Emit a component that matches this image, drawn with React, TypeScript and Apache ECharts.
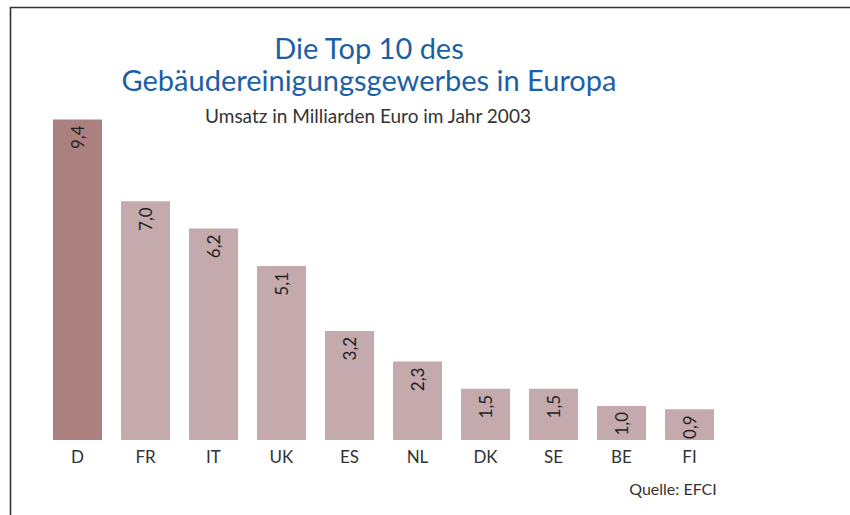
import React, { useEffect, useRef } from "react";
import * as echarts from "echarts";

const categories = ["D", "FR", "IT", "UK", "ES", "NL", "DK", "SE", "BE", "FI"];
const values = [9.4, 7.0, 6.2, 5.1, 3.2, 2.3, 1.5, 1.5, 1.0, 0.9];
const titleLines = ["Die Top 10 des", "Gebäudereinigungsgewerbes in Europa"];
const subtitle = "Umsatz in Milliarden Euro im Jahr 2003";
const source = "Quelle: EFCI";

const highlightColor = "#ad8080";
const barColor = "#c4a9ad";
const FONT = "Lato, 'Open Sans', sans-serif";

export default function App() {
  const ref = useRef<HTMLDivElement>(null);
  useEffect(() => {
    if (!ref.current) return;
    const chart = echarts.init(ref.current, undefined, { renderer: "svg" });
    chart.setOption({
      animation: false,
      backgroundColor: "#ffffff",
      title: [
        {
          text: titleLines.join("\n"),
          left: 364,
          top: 26,
          textAlign: "center",
          textStyle: {
            fontFamily: FONT,
            fontSize: 29,
            fontWeight: "normal",
            color: "#1b5fa6",
            lineHeight: 32,
          },
        },
        {
          text: subtitle,
          left: 363,
          top: 101,
          textAlign: "center",
          textStyle: {
            fontFamily: FONT,
            fontSize: 19,
            fontWeight: "normal",
            color: "#333333",
          },
        },
        {
          text: source,
          left: 668,
          top: 475,
          textAlign: "center",
          textStyle: {
            fontFamily: FONT,
            fontSize: 16,
            fontWeight: "normal",
            color: "#333333",
          },
        },
      ],
      graphic: [
        {
          type: "polyline",
          shape: { points: [[10.5, 515], [10.5, 7.5], [850, 7.5]] },
          style: { stroke: "#333333", lineWidth: 1.6, fill: "none" },
        },
      ],
      grid: { left: 43.5, right: 850 - 723.5, top: 99, bottom: 75 },
      xAxis: {
        type: "category",
        data: categories,
        axisLine: { show: false },
        axisTick: { show: false },
        axisLabel: {
          margin: 8,
          fontFamily: FONT,
          fontSize: 17,
          color: "#333333",
        },
      },
      yAxis: {
        type: "value",
        min: 0,
        max: 10,
        show: false,
        splitLine: { show: false },
      },
      series: [
        {
          type: "bar",
          barWidth: 49,
          data: values.map((v, i) => ({
            value: v,
            itemStyle: { color: i === 0 ? highlightColor : barColor },
          })),
          label: {
            show: true,
            position: "insideTop",
            distance: 6,
            rotate: 90,
            align: "right",
            verticalAlign: "middle",
            fontFamily: FONT,
            fontSize: 17,
            color: "#222222",
            formatter: (p: any) => p.value.toFixed(1).replace(".", ","),
          },
        },
      ],
    });
    return () => chart.dispose();
  }, []);
  return <div ref={ref} style={{ width: 850, height: 515, position: "absolute", left: 0, top: 0 }} />;
}
